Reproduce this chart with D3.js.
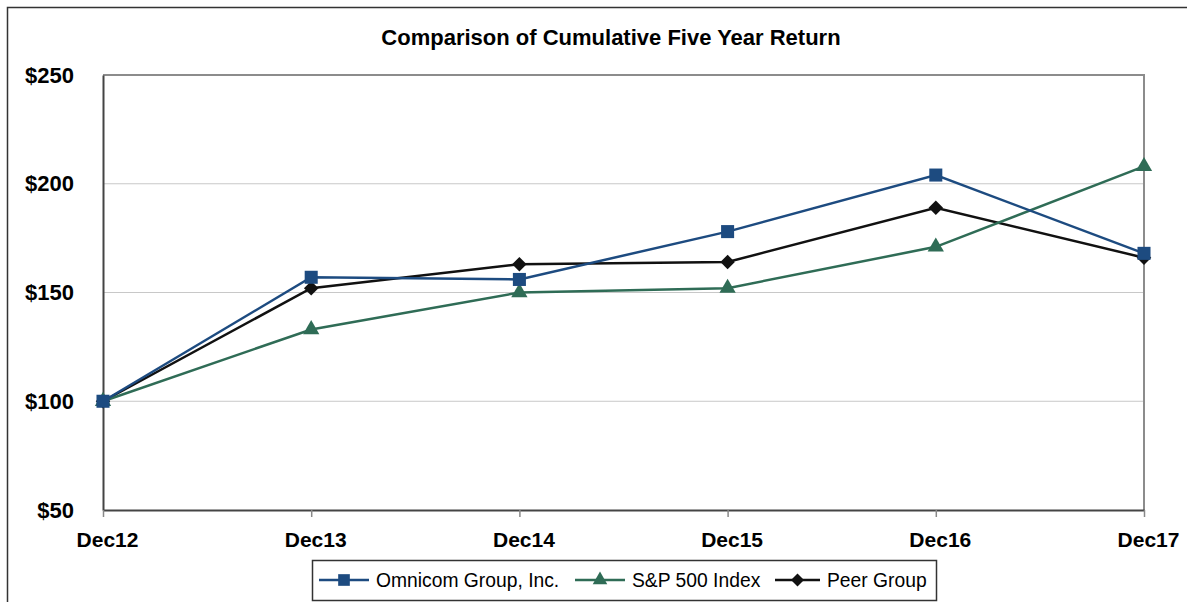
<!DOCTYPE html>
<html>
<head>
<meta charset="utf-8">
<script src="https://cdn.jsdelivr.net/npm/d3@7"></script>
<style>
  body { margin: 0; background: #fff; }
  svg { display: block; font-family: "Liberation Sans", Arial, sans-serif; }
</style>
</head>
<body>
<div id="chart"></div>
<script>
// data
const years = ["Dec12", "Dec13", "Dec14", "Dec15", "Dec16", "Dec17"];
const omnicom = [100, 157, 156, 178, 204, 168];
const sp500 = [100, 133, 150, 152, 171, 208];
const peer = [100, 152, 163, 164, 189, 166];
const yTicks = [50, 100, 150, 200, 250];

const series = [
  {name: "Peer Group", values: peer, color: "#111111", marker: "diamond"},
  {name: "S&P 500 Index", values: sp500, color: "#2f6c56", marker: "triangle"},
  {name: "Omnicom Group, Inc.", values: omnicom, color: "#1d4b80", marker: "square"}
];
const legendOrder = ["Omnicom Group, Inc.", "S&P 500 Index", "Peer Group"];

const W = 1187, H = 602;
const plot = {left: 103, right: 1144, top: 75, bottom: 510};

const svg = d3.select("#chart").append("svg")
  .attr("width", W).attr("height", H);

// outer frame (top and left visible)
svg.append("path")
  .attr("d", `M7.5,${H} V7.5 H${W}`)
  .attr("fill", "none").attr("stroke", "#333").attr("stroke-width", 1.5);

const x = d3.scalePoint().domain(years).range([plot.left, plot.right]);
const y = d3.scaleLinear().domain([50, 250]).range([plot.bottom, plot.top]);

// title
svg.append("text")
  .attr("x", 611).attr("y", 45)
  .attr("text-anchor", "middle")
  .attr("font-size", 22).attr("font-weight", "bold")
  .text("Comparison of Cumulative Five Year Return");

// gridlines
svg.append("g").selectAll("line")
  .data(yTicks.filter(d => d > 50 && d < 250))
  .join("line")
    .attr("x1", plot.left).attr("x2", plot.right)
    .attr("y1", d => y(d)).attr("y2", d => y(d))
    .attr("stroke", "#c8c8c8").attr("stroke-width", 1);

// top and right frame of the plot
svg.append("path")
  .attr("d", `M${plot.left},${plot.top} H${plot.right} V${plot.bottom}`)
  .attr("fill", "none").attr("stroke", "#8c8c8c").attr("stroke-width", 2);

// y axis
const yAxis = svg.append("g")
  .attr("transform", `translate(${plot.left},0)`)
  .call(d3.axisLeft(y).tickValues(yTicks).tickSize(0).tickPadding(29)
    .tickFormat(d => "$" + d));
yAxis.select(".domain").attr("stroke", "#444").attr("stroke-width", 2);
yAxis.selectAll("text")
  .attr("font-size", 22).attr("font-weight", "bold")
  .attr("font-family", "Liberation Sans, Arial, sans-serif")
  .attr("fill", "#000");

// x axis
const xAxis = svg.append("g")
  .attr("transform", `translate(0,${plot.bottom})`)
  .call(d3.axisBottom(x).tickSizeInner(7).tickSizeOuter(0).tickPadding(0));
xAxis.select(".domain").attr("stroke", "#444").attr("stroke-width", 2);
xAxis.selectAll(".tick line").attr("stroke", "#888").attr("stroke-width", 1.5);
xAxis.selectAll("text")
  .attr("font-size", 21).attr("font-weight", "bold")
  .attr("font-family", "Liberation Sans, Arial, sans-serif")
  .attr("fill", "#000")
  .attr("dy", null).attr("y", 37).attr("x", 4);

// marker shapes (diamond = square turned 45 degrees)
function markerPath(kind, scale) {
  const sizes = {square: 170, triangle: 115, diamond: 105};
  const types = {square: d3.symbolSquare, triangle: d3.symbolTriangle, diamond: d3.symbolSquare};
  return d3.symbol(types[kind], sizes[kind] * scale)();
}
const markerRotate = kind => kind === "diamond" ? " rotate(45)" : "";

const line = d3.line()
  .x((d, i) => x(years[i]))
  .y(d => y(d));

series.forEach(s => {
  const g = svg.append("g");
  g.append("path")
    .attr("d", line(s.values))
    .attr("fill", "none")
    .attr("stroke", s.color).attr("stroke-width", 2.5);
  g.selectAll("path.m")
    .data(s.values)
    .join("path")
      .attr("class", "m")
      .attr("d", markerPath(s.marker, 1))
      .attr("transform", (d, i) => `translate(${x(years[i])},${y(d)})` + markerRotate(s.marker))
      .attr("fill", s.color);
});

// legend
const legend = svg.append("g");
legend.append("rect")
  .attr("x", 312.5).attr("y", 560.5).attr("width", 624).attr("height", 40)
  .attr("fill", "#fff").attr("stroke", "#333").attr("stroke-width", 1.5);

const legendX = [319, 575, 775];
const legendLen = [50, 50, 45];
legendOrder.forEach((name, i) => {
  const s = series.find(d => d.name === name);
  const g = legend.append("g");
  const x0 = legendX[i], x1 = x0 + legendLen[i];
  g.append("line")
    .attr("x1", x0).attr("x2", x1).attr("y1", 580).attr("y2", 580)
    .attr("stroke", s.color).attr("stroke-width", 2.5);
  g.append("path")
    .attr("d", markerPath(s.marker, 0.8))
    .attr("transform", `translate(${(x0 + x1) / 2},580)` + markerRotate(s.marker))
    .attr("fill", s.color);
  g.append("text")
    .attr("x", x1 + 7).attr("y", 580)
    .attr("dy", "0.35em")
    .attr("font-size", 19.3)
    .text(name);
});
</script>
</body>
</html>
